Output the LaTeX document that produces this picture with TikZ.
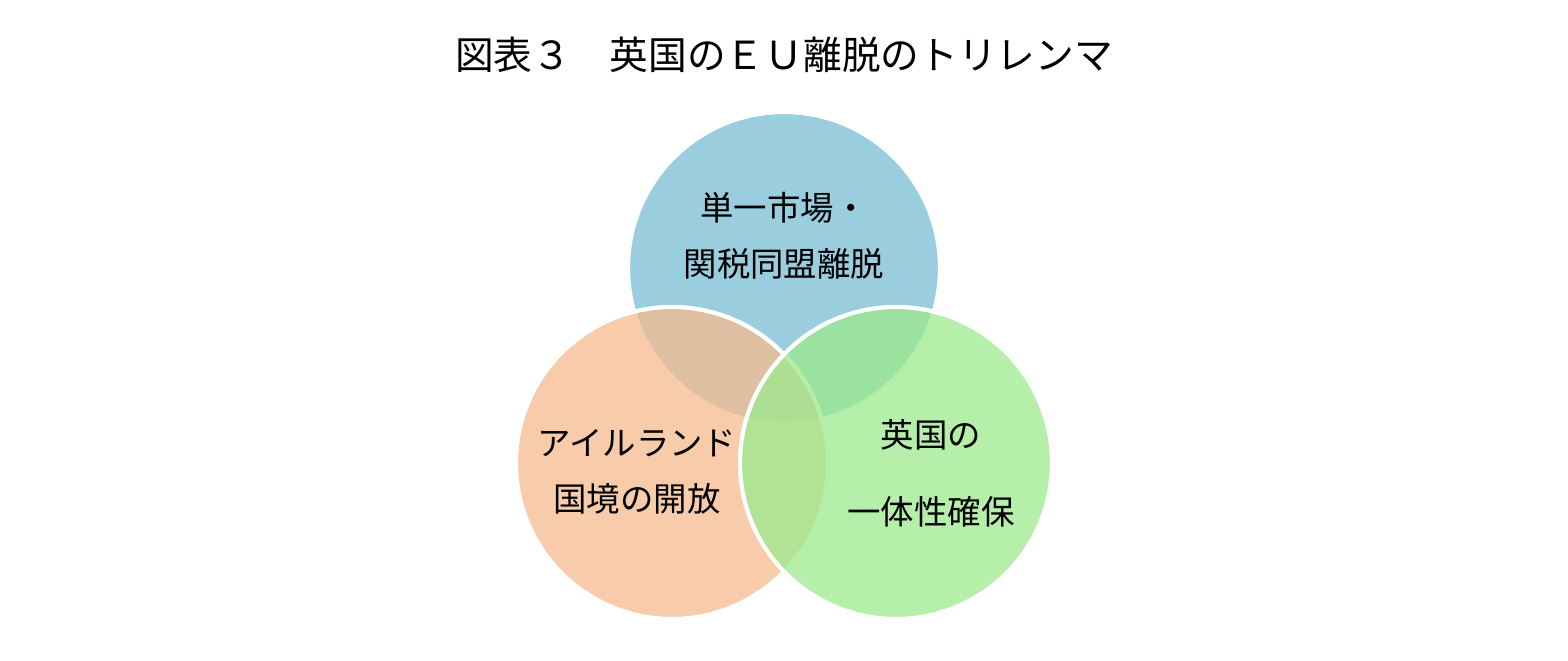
\documentclass[tikz,border=0pt]{standalone}
\usepackage{fontspec}
\setmainfont{Noto Sans CJK JP}
\usetikzlibrary{positioning}
\definecolor{marketblue}{HTML}{9ACDDD}
\definecolor{borderorange}{HTML}{F5BB8E}
\definecolor{unitygreen}{HTML}{9CEA8C}
\begin{document}
\begin{tikzpicture}[
    x=0.01cm, y=-0.01cm,
    every node/.style={
    align=center,
    font=\fontsize{9.5pt}{16pt}\selectfont},
    set/.style={
    draw=white,
    line width=1.2pt,
    fill opacity=0.75}]
    \useasboundingbox (0,0) rectangle (1568,661);
    \node[font=\fontsize{11pt}{14pt}\selectfont] (title) at (784,55) {図表３\quad 英国のＥＵ離脱のトリレンマ};
    \filldraw[set, fill=marketblue, fill opacity=1] (784,268) circle (156) coordinate (market);
    \filldraw[set, fill=borderorange] (672,463) circle (156) coordinate (border);
    \filldraw[set, fill=unitygreen] (896,463) circle (156) coordinate (unity);
    \node (marketlbl) at (784,236) {単一市場・\\関税同盟離脱};
    \node (borderlbl) at (637,472) {アイルランド\\国境の開放};
    \node[font=\fontsize{9.5pt}{22pt}\selectfont] (unitylbl) at (931,473) {英国の\\一体性確保};
\end{tikzpicture}
\end{document}
